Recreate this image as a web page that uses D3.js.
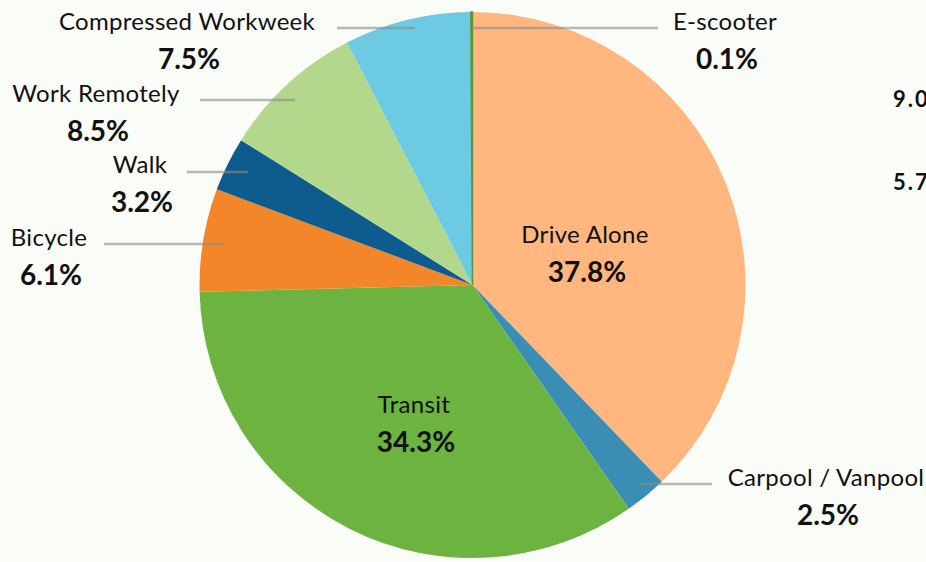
<!DOCTYPE html>
<html><head><meta charset="utf-8">
<script src="https://cdn.jsdelivr.net/npm/d3@7"></script>
<style>html,body{margin:0;padding:0;background:#fafcf8;}svg{display:block;}</style>
</head><body>
<svg id="c" width="926" height="562"></svg>
<script>
const categories = ["Drive Alone","Carpool / Vanpool","Transit","Bicycle","Walk","Work Remotely","Compressed Workweek","E-scooter"];
const values = [37.8, 2.5, 34.3, 6.1, 3.2, 8.5, 7.5, 0.1];
const colors = ["#ffb77f","#3a8db4","#6db33f","#f4862a","#0e5c8d","#b3d88c","#6ccae2","#5a9a3a"];
const cutoffLabels = ["9.0","5.7"];

// label layout (outside / inside)
const layout = {
  "Drive Alone":        {x:585, y:243, inside:true},
  "Transit":            {x:414, y:413, inside:true},
  "Carpool / Vanpool":  {x:826, y:486, line:[640,712,484]},
  "Bicycle":            {x:49,  y:246, line:[104,224,244]},
  "Walk":               {x:140, y:173, line:[187,248,172]},
  "Work Remotely":      {x:96,  y:102, line:[200,295,100]},
  "Compressed Workweek":{x:187, y:30,  line:[337,415,28]},
  "E-scooter":          {x:725, y:30,  line:[472,658,28]}
};

const svg = d3.select("#c");
const cx = 472.5, cy = 285, r = 273;
const pie = d3.pie().sort(null).value(d => d.v);
const data = categories.map((c,i)=>({c, v:values[i], col:colors[i]}));
const arc = d3.arc().innerRadius(0).outerRadius(r);
const g = svg.append("g").attr("transform",`translate(${cx},${cy})`);
g.selectAll("path").data(pie(data)).join("path")
  .attr("d",arc).attr("fill",d=>d.data.col)
  .attr("stroke",d=>d.data.c==="E-scooter"?d.data.col:"none").attr("stroke-width",1.5);

const fontName = "Lato, 'Open Sans', sans-serif";
const fmt = v => v.toFixed(1) + "%";
data.forEach(d => {
  const L = layout[d.c];
  if (L.line) {
    svg.append("line").attr("x1",L.line[0]).attr("x2",L.line[1]).attr("y1",L.line[2]).attr("y2",L.line[2])
      .attr("stroke","#8a8a8a").attr("stroke-opacity",0.6).attr("stroke-width",2.5);
  }
  svg.append("text").attr("x",L.x).attr("y",L.y).attr("text-anchor","middle")
    .attr("font-family",fontName).attr("font-size",24).attr("font-weight",400)
    .attr("letter-spacing",0.3)
    .attr("fill","#111").text(d.c);
  svg.append("text").attr("x",L.x+2).attr("y",L.y+39).attr("text-anchor","middle")
    .attr("font-family",fontName).attr("font-size",28).attr("font-weight",700)
    .attr("fill","#111").text(fmt(d.v));
});

svg.selectAll("text.cut").data(cutoffLabels).join("text").attr("class","cut")
  .attr("x",893).attr("y",(d,i)=>107+i*83)
  .attr("font-family",fontName).attr("font-size",22).attr("font-weight",700)
  .attr("letter-spacing",2)
  .attr("fill","#111").text(d=>d);
</script>
</body></html>
